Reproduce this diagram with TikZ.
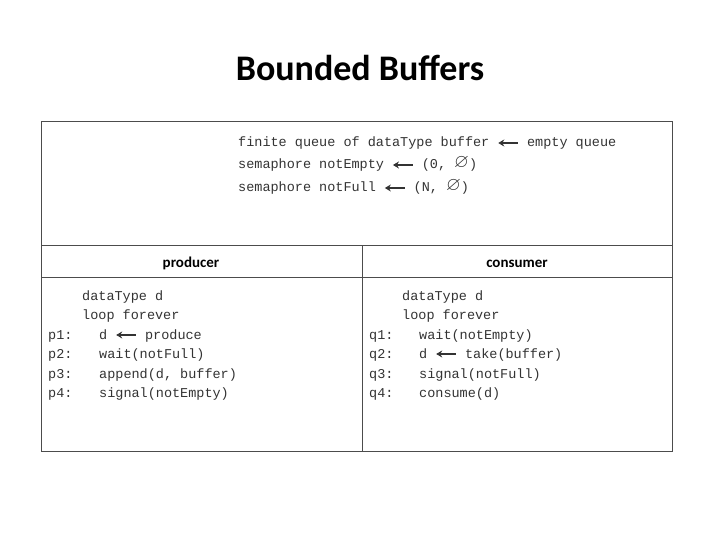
\documentclass[tikz,border=0pt]{standalone}
\usepackage{amsmath,amssymb}
\usepackage{fontspec}
\setmainfont{Carlito}
\setmonofont{Liberation Mono}
\usetikzlibrary{positioning,arrows.meta}
\tikzset{
  code/.style={anchor=base west,inner sep=0pt,font=\fontsize{13.5}{15}\ttfamily,text=black!80},
  head/.style={anchor=base,inner sep=0pt,font=\fontsize{15}{17}\bfseries},
}
\newcommand{\getsarr}{\tikz[baseline=-4pt]\draw[line width=1.6pt,{Stealth[length=6pt,width=7pt]}-] (0,0) -- (20pt,0);}
\newcommand{\nullset}{\raisebox{1pt}{\fontsize{19}{19}\selectfont$\varnothing$}}
\begin{document}
\begin{tikzpicture}[x=1pt,y=-1pt]
\useasboundingbox (0,0) rectangle (720,540);

\node[font=\fontsize{36}{40}\bfseries] (title) at (360,68) {Bounded Buffers};

\draw[black!70,line width=1pt] (41,122) rectangle (672,451);
\draw[black!70] (41,245) -- (672,245);
\draw[black!70] (41,277) -- (672,277);
\draw[black!70] (362,245) -- (362,451);

\node[code] (g1) at (238,147) {finite queue of dataType buffer \getsarr\ empty queue};
\node[code] (g2) at (238,169) {semaphore notEmpty \getsarr\ (0, \nullset)};
\node[code] (g3) at (238,192) {semaphore notFull \getsarr\ (N, \nullset)};

\node[head] (prod) at (191,267) {producer};
\node[head] (cons) at (517,267) {consumer};

% producer
\node[code] (pd) at (82,300) {dataType d};
\node[code] (pl) at (82,319) {loop forever};
\foreach \i/\y/\t in {1/339/{d \getsarr\ produce},2/358/{wait(notFull)},3/378/{append(d, buffer)},4/397/{signal(notEmpty)}}{
  \node[code] (p\i) at (48,\y) {p\i:};
  \node[code] (ps\i) at (99,\y) {\t};
}
% consumer
\node[code] (qd) at (402,300) {dataType d};
\node[code] (ql) at (402,319) {loop forever};
\foreach \i/\y/\t in {1/339/{wait(notEmpty)},2/358/{d \getsarr\ take(buffer)},3/378/{signal(notFull)},4/397/{consume(d)}}{
  \node[code] (q\i) at (369,\y) {q\i:};
  \node[code] (qs\i) at (419,\y) {\t};
}
\end{tikzpicture}
\end{document}
